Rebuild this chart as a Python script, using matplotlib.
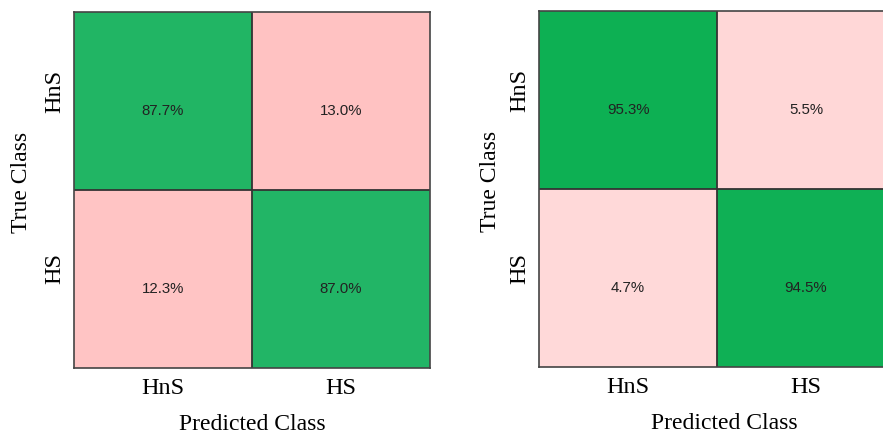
import numpy as np
import matplotlib.pyplot as plt
from matplotlib.colors import LinearSegmentedColormap, Normalize
from matplotlib.transforms import ScaledTranslation

# Clase si valorile (procente) ale celor doua matrici de confuzie
classes = ['HnS', 'HS']
cm_left = np.array([[87.7, 13.0],
                    [12.3, 87.0]])
cm_right = np.array([[95.3, 5.5],
                     [4.7, 94.5]])

# Culori: verde pe diagonala, roz in rest
green_cmap = LinearSegmentedColormap.from_list('verde', ['#35ba76', '#01ad49'])
pink_cmap = LinearSegmentedColormap.from_list('roz', ['#ffe6e6', '#ffb0b0'])
green_norm = Normalize(80, 100)
pink_norm = Normalize(0, 20)


def culori_celule(cm):
    rgba = np.zeros(cm.shape + (4,))
    for i in range(cm.shape[0]):
        for j in range(cm.shape[1]):
            if i == j:
                rgba[i, j] = green_cmap(green_norm(cm[i, j]))
            else:
                rgba[i, j] = pink_cmap(pink_norm(cm[i, j]))
    return rgba


def deseneaza_cm(ax, cm, xlabel_x, ylabel_x):
    n = cm.shape[0]
    ax.imshow(culori_celule(cm), extent=(-0.5, n - 0.5, n - 0.5, -0.5), aspect='auto')
    for k in range(1, n):
        ax.axvline(k - 0.5, color='#333333', lw=1.3)
        ax.axhline(k - 0.5, color='#333333', lw=1.3)
    # textul din celule e putin mai jos fata de centru
    jos = ScaledTranslation(0, -10 / 100, ax.figure.dpi_scale_trans)
    for i in range(n):
        for j in range(n):
            ax.text(j, i, '{:.1f}%'.format(cm[i, j]), ha='center', va='center',
                    fontsize=10.8, family='Liberation Sans', color='#222222',
                    transform=ax.transData + jos)
    for s in ax.spines.values():
        s.set_color('#444444')
        s.set_linewidth(1.2)
    ax.set_xticks(range(n))
    ax.set_yticks(range(n))
    ax.set_xticklabels(classes, family='Liberation Serif', fontsize=17.5)
    ax.set_yticklabels(classes, family='Liberation Serif', fontsize=17.5,
                       rotation=90, va='center')
    ax.tick_params(length=0)
    ax.tick_params(axis='x', pad=7)
    ax.tick_params(axis='y', pad=6)
    sus = ScaledTranslation(0, 10 / 100, ax.figure.dpi_scale_trans)
    for lab in ax.get_yticklabels():
        lab.set_transform(lab.get_transform() + sus)
    ax.set_xlabel('Predicted Class', family='Liberation Serif', fontsize=17)
    ax.set_ylabel('True Class', family='Liberation Serif', fontsize=17)
    ax.xaxis.set_label_coords(xlabel_x, -0.13)
    ax.yaxis.set_label_coords(ylabel_x, 0.52)


fig = plt.figure(figsize=(8.83, 4.34), dpi=100)
ax1 = fig.add_axes([74 / 883, 66 / 434, 356 / 883, 356 / 434])
ax2 = fig.add_axes([539 / 883, 67 / 434, 356 / 883, 356 / 434])

deseneaza_cm(ax1, cm_left, 0.5, -0.118)
deseneaza_cm(ax2, cm_right, 0.52, -0.107)

fig.savefig('out.png', dpi=100)
